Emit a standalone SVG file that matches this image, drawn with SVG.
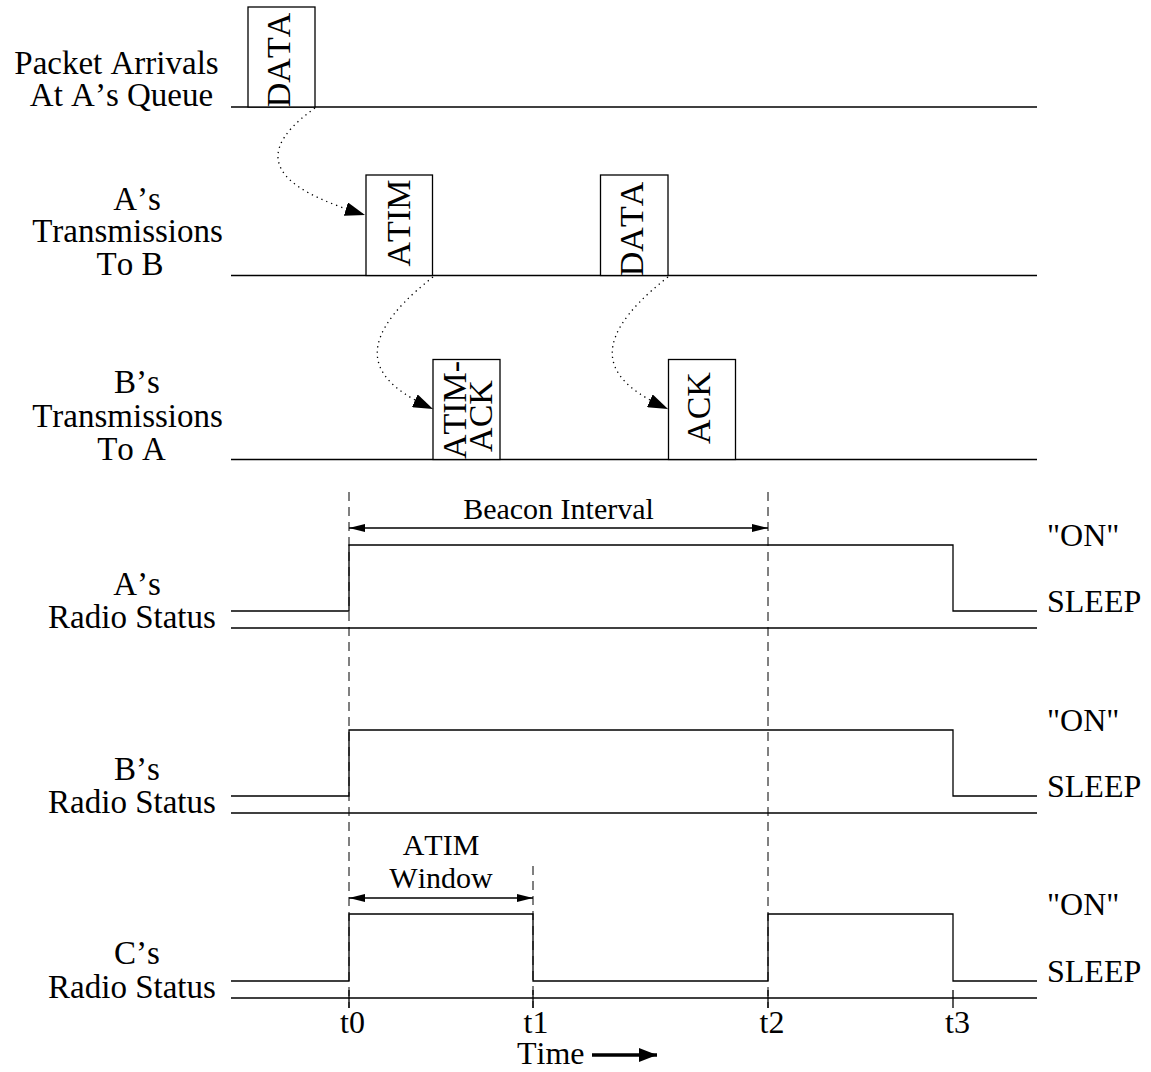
<svg xmlns="http://www.w3.org/2000/svg" width="1151" height="1072" viewBox="0 0 1151 1072">
<style>
  .ln { stroke:#000; stroke-width:1.3; fill:none; }
  .box { stroke:#000; stroke-width:1.3; fill:#fff; }
  .dash { stroke:#000; stroke-width:1; fill:none; stroke-dasharray:9 6; }
  .dot { stroke:#000; stroke-width:1.3; fill:none; stroke-dasharray:1.3 4; }
  text { font-family:"Liberation Serif","Times New Roman",serif; fill:#000; font-kerning:none; }
  .lbl { font-size:33px; text-anchor:middle; }
  .box-t { font-size:34px; text-anchor:middle; }
  .small { font-size:30px; text-anchor:middle; }
  .state { font-size:32px; }
  .tick-t { font-size:32px; text-anchor:middle; }
</style>
<defs>
  <marker id="ah" viewBox="0 0 20 14" refX="20" refY="7" markerWidth="20" markerHeight="14" markerUnits="userSpaceOnUse" orient="auto">
    <path d="M0,0 L20,7 L0,14 Z" fill="#000"/>
  </marker>
  <marker id="dim" viewBox="0 0 16 8" refX="16" refY="4" markerWidth="16" markerHeight="8" markerUnits="userSpaceOnUse" orient="auto-start-reverse">
    <path d="M0,0 L16,4 L0,8 Z" fill="#000"/>
  </marker>
  <marker id="big" viewBox="0 0 18 14" refX="18" refY="7" markerWidth="18" markerHeight="14" markerUnits="userSpaceOnUse" orient="auto">
    <path d="M0,0 L18,7 L0,14 Z" fill="#000"/>
  </marker>
</defs>
<rect width="1151" height="1072" fill="#fff"/>

<!-- Row labels -->
<g id="label-packet-arrivals">
  <text class="lbl" x="116.5" y="74">Packet Arrivals</text>
  <text class="lbl" x="121.5" y="106">At A’s Queue</text>
</g>
<g id="label-a-tx">
  <text class="lbl" x="137" y="210">A’s</text>
  <text class="lbl" x="127.5" y="242">Transmissions</text>
  <text class="lbl" x="130" y="275">To B</text>
</g>
<g id="label-b-tx">
  <text class="lbl" x="137" y="393">B’s</text>
  <text class="lbl" x="127.5" y="427">Transmissions</text>
  <text class="lbl" x="131.5" y="460">To A</text>
</g>
<g id="label-a-radio">
  <text class="lbl" x="137" y="595">A’s</text>
  <text class="lbl" x="132" y="628">Radio Status</text>
</g>
<g id="label-b-radio">
  <text class="lbl" x="137" y="780">B’s</text>
  <text class="lbl" x="132" y="813">Radio Status</text>
</g>
<g id="label-c-radio">
  <text class="lbl" x="137" y="964">C’s</text>
  <text class="lbl" x="132" y="998">Radio Status</text>
</g>

<!-- Baselines of packet rows -->
<g id="row-lines">
  <line class="ln" x1="231" y1="107" x2="1037" y2="107"/>
  <line class="ln" x1="231" y1="275.5" x2="1037" y2="275.5"/>
  <line class="ln" x1="231" y1="459.5" x2="1037" y2="459.5"/>
</g>

<!-- Packet nodes -->
<g id="node-data-arrival">
  <rect class="box" x="248" y="7" width="67" height="100"/>
  <text class="box-t" transform="translate(289.5,60) rotate(-90)">DATA</text>
</g>
<g id="node-atim">
  <rect class="box" x="366" y="175" width="66.5" height="100.5"/>
  <text class="box-t" transform="translate(410,223) rotate(-90)">ATIM</text>
</g>
<g id="node-data-tx">
  <rect class="box" x="600.5" y="175" width="67.5" height="100.5"/>
  <text class="box-t" transform="translate(643,229) rotate(-90)">DATA</text>
</g>
<g id="node-atim-ack">
  <rect class="box" x="433" y="359.5" width="67" height="100"/>
  <text class="box-t" transform="translate(466,410) rotate(-90)">ATIM-</text>
  <text class="box-t" transform="translate(491.5,416) rotate(-90)">ACK</text>
</g>
<g id="node-ack">
  <rect class="box" x="668.5" y="359.5" width="67" height="100"/>
  <text class="box-t" transform="translate(710,408) rotate(-90)">ACK</text>
</g>

<!-- Dotted connectors -->
<g id="connectors">
  <path class="dot" d="M315,108 C235,165 300,195 365,215" marker-end="url(#ah)"/>
  <path class="dot" d="M433,277 C340,350 380,385 433,409" marker-end="url(#ah)"/>
  <path class="dot" d="M668,277 C575,350 615,385 668,409" marker-end="url(#ah)"/>
</g>

<!-- Time markers (dashed) -->
<g id="time-markers">
  <line class="dash" x1="349" y1="492" x2="349" y2="1008"/>
  <line class="dash" x1="768" y1="492" x2="768" y2="1008"/>
  <line class="dash" x1="533" y1="866" x2="533" y2="1008"/>
  <line class="ln" x1="349" y1="990" x2="349" y2="1008"/>
  <line class="ln" x1="533" y1="990" x2="533" y2="1008"/>
  <line class="ln" x1="768" y1="990" x2="768" y2="1008"/>
  <line class="ln" x1="953" y1="990" x2="953" y2="1008"/>
</g>

<!-- Beacon interval -->
<g id="beacon-interval">
  <text class="small" x="558.5" y="519">Beacon Interval</text>
  <line class="ln" x1="349" y1="528" x2="768" y2="528" marker-start="url(#dim)" marker-end="url(#dim)"/>
</g>

<!-- A radio -->
<g id="radio-a">
  <polyline class="ln" points="231,611 349,611 349,545 953,545 953,611 1037,611"/>
  <line class="ln" x1="231" y1="628" x2="1037" y2="628"/>
  <text class="state" x="1047" y="546">"ON"</text>
  <text class="state" x="1047" y="612">SLEEP</text>
</g>

<!-- B radio -->
<g id="radio-b">
  <polyline class="ln" points="231,796 349,796 349,730 953,730 953,796 1037,796"/>
  <line class="ln" x1="231" y1="813" x2="1037" y2="813"/>
  <text class="state" x="1047" y="731">"ON"</text>
  <text class="state" x="1047" y="797">SLEEP</text>
</g>

<!-- ATIM window -->
<g id="atim-window">
  <text class="small" x="441" y="855">ATIM</text>
  <text class="small" x="441" y="888">Window</text>
  <line class="ln" x1="349" y1="898" x2="533" y2="898" marker-start="url(#dim)" marker-end="url(#dim)"/>
</g>

<!-- C radio -->
<g id="radio-c">
  <polyline class="ln" points="231,981 349,981 349,914 533,914 533,981 768,981 768,914 953,914 953,981 1037,981"/>
  <line class="ln" x1="231" y1="998" x2="1037" y2="998"/>
  <text class="state" x="1047" y="915">"ON"</text>
  <text class="state" x="1047" y="982">SLEEP</text>
</g>

<!-- Time axis labels -->
<g id="time-axis">
  <text class="tick-t" x="352.5" y="1033">t0</text>
  <text class="tick-t" x="536" y="1033">t1</text>
  <text class="tick-t" x="772" y="1033">t2</text>
  <text class="tick-t" x="957.5" y="1033">t3</text>
  <text class="state" x="517" y="1064">Time</text>
  <line x1="592" y1="1055" x2="657" y2="1055" stroke="#000" stroke-width="3.5" marker-end="url(#big)"/>
</g>
</svg>
